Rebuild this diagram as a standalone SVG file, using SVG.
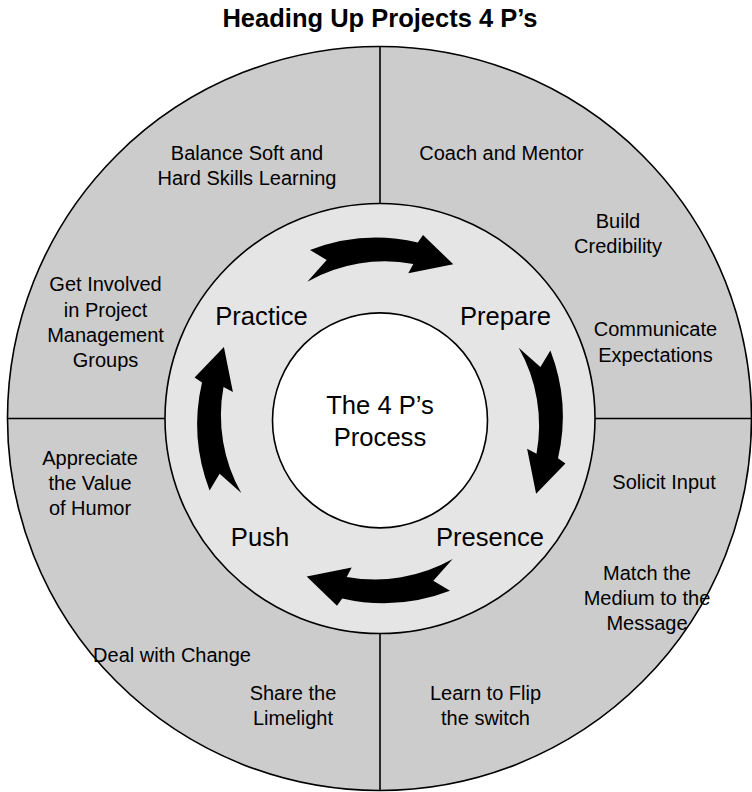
<svg xmlns="http://www.w3.org/2000/svg" width="752" height="792" viewBox="0 0 752 792">
  <defs>
    <style>
      .title { font-family: "Liberation Sans", Arial, sans-serif; font-weight: bold; font-size: 25.5px; fill: #000; text-anchor: middle; }
      .tip { font-family: "Liberation Sans", Arial, sans-serif; font-size: 20px; fill: #000; text-anchor: middle; }
      .stage { font-family: "Liberation Sans", Arial, sans-serif; font-size: 25.6px; fill: #000; text-anchor: middle; }
      .ring { stroke: #000; stroke-width: 1.6; }
      .divider { stroke: #000; stroke-width: 1.6; fill: none; }
      .flow { fill: #000; stroke: none; }
    </style>
    <!-- curved arrow, drawn at the top of the cycle; others are rotations of it -->
    <path id="cycle-arrow" d="M310,250 A184,184 0 0,1 417.8,242.4 L423,235 L453.3,264.3 L408.3,273.3 L413.3,263.9 A158,158 0 0,0 307.3,281.7 L326.7,260 Z"/>
  </defs>

  <g id="title">
    <text class="title" x="380" y="27">Heading Up Projects 4 P’s</text>
  </g>

  <!-- outer band with the four quadrants -->
  <g id="outer-band">
    <circle class="ring" cx="379.5" cy="418.5" r="372" fill="#cccccc"/>
    <line class="divider" x1="380" y1="46.5" x2="380" y2="204"/>
    <line class="divider" x1="380" y1="633" x2="380" y2="790.5"/>
    <line class="divider" x1="7.5" y1="418.5" x2="165" y2="418.5"/>
    <line class="divider" x1="595" y1="418.5" x2="751.5" y2="418.5"/>
  </g>

  <!-- middle band holding the cycle -->
  <g id="cycle-band">
    <circle class="ring" cx="380" cy="418.5" r="215" fill="#e5e5e5"/>
  </g>

  <g id="center">
    <circle class="ring" cx="380" cy="420.4" r="107.5" fill="#ffffff"/>
    <text class="stage" x="380" y="414">The 4 P’s</text>
    <text class="stage" x="380" y="446">Process</text>
  </g>

  <!-- stage names -->
  <g id="stage-practice"><text class="stage" x="261.5" y="325">Practice</text></g>
  <g id="stage-prepare"><text class="stage" x="505.5" y="325">Prepare</text></g>
  <g id="stage-presence"><text class="stage" x="490" y="546">Presence</text></g>
  <g id="stage-push"><text class="stage" x="260" y="546">Push</text></g>

  <!-- connectors: the four cycle arrows -->
  <g id="connectors" class="flow">
    <use href="#cycle-arrow"/>
    <use href="#cycle-arrow" transform="rotate(90 380 420.4)"/>
    <use href="#cycle-arrow" transform="rotate(180 380 420.4)"/>
    <use href="#cycle-arrow" transform="rotate(270 380 420.4)"/>
  </g>

  <!-- practice quadrant (upper left) -->
  <g id="tip-balance">
    <text class="tip" x="247" y="160">Balance Soft and</text>
    <text class="tip" x="247" y="185">Hard Skills Learning</text>
  </g>
  <g id="tip-involved">
    <text class="tip" x="105.5" y="291">Get Involved</text>
    <text class="tip" x="105.5" y="316.5">in Project</text>
    <text class="tip" x="105.5" y="342">Management</text>
    <text class="tip" x="105.5" y="367">Groups</text>
  </g>

  <!-- prepare quadrant (upper right) -->
  <g id="tip-coach"><text class="tip" x="501.5" y="160">Coach and Mentor</text></g>
  <g id="tip-credibility">
    <text class="tip" x="618" y="227.5">Build</text>
    <text class="tip" x="618" y="253">Credibility</text>
  </g>
  <g id="tip-communicate">
    <text class="tip" x="655.5" y="336">Communicate</text>
    <text class="tip" x="655.5" y="362">Expectations</text>
  </g>

  <!-- presence quadrant (lower right) -->
  <g id="tip-solicit"><text class="tip" x="664" y="489">Solicit Input</text></g>
  <g id="tip-medium">
    <text class="tip" x="647" y="580">Match the</text>
    <text class="tip" x="647" y="605">Medium to the</text>
    <text class="tip" x="647" y="630">Message</text>
  </g>
  <g id="tip-flip">
    <text class="tip" x="485.5" y="700">Learn to Flip</text>
    <text class="tip" x="485.5" y="725">the switch</text>
  </g>

  <!-- push quadrant (lower left) -->
  <g id="tip-humor">
    <text class="tip" x="90" y="465">Appreciate</text>
    <text class="tip" x="90" y="490">the Value</text>
    <text class="tip" x="90" y="515">of Humor</text>
  </g>
  <g id="tip-change"><text class="tip" x="172" y="662">Deal with Change</text></g>
  <g id="tip-limelight">
    <text class="tip" x="293" y="700">Share the</text>
    <text class="tip" x="293" y="725">Limelight</text>
  </g>
</svg>
